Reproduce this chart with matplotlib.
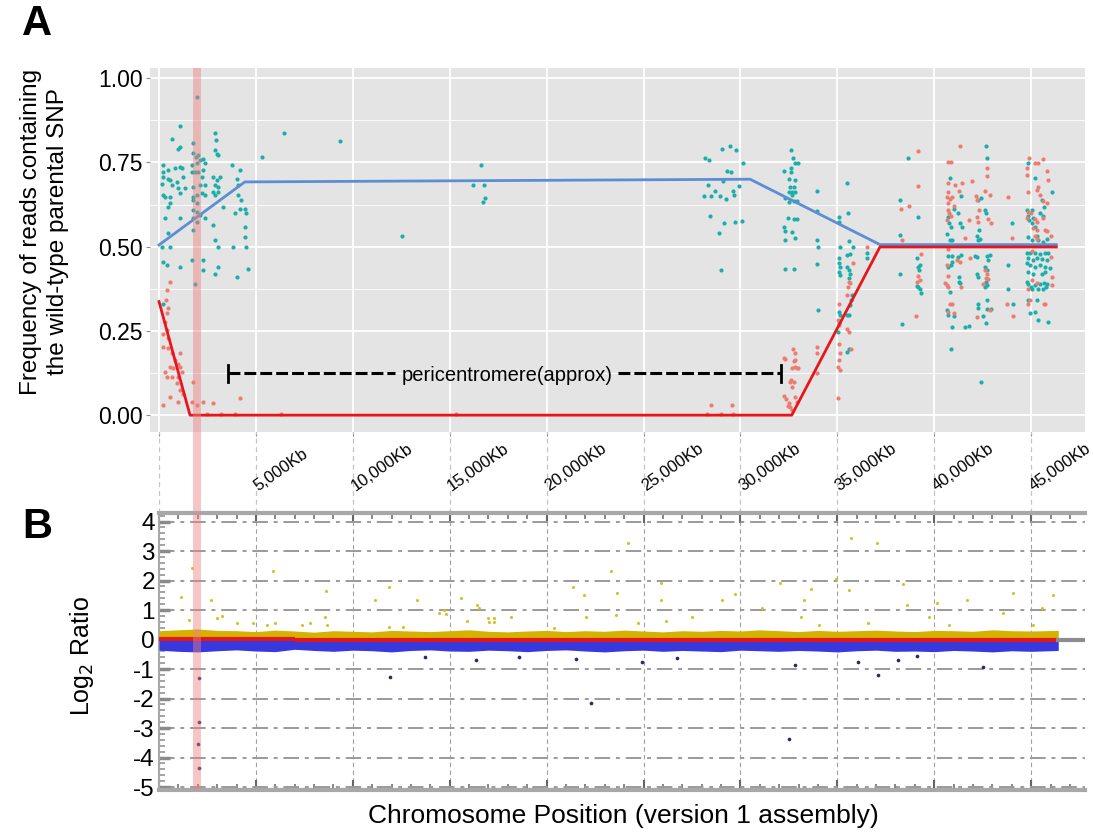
import matplotlib.pyplot as plt
import numpy as np
from matplotlib.ticker import MultipleLocator

plt.rcParams['font.family'] = ['Liberation Sans', 'DejaVu Sans']
plt.rcParams['axes.unicode_minus'] = False

# ---------------- panel A : SNP read frequencies (Kb, frequency) ----------------
teal = np.array([
    (1082, .859), (652, .818), (1768, .808), (2884, .836), (2918, .816), (996, .791), (1082, .796),
    (1768, .778), (1906, .767), (2026, .772), (2112, .757), (2283, .759), (2369, .747), (2884, .786),
    (2970, .776), (3056, .772), (3742, .742), (4172, .727), (223, .742), (481, .727), (824, .732),
    (1082, .737), (1167, .732), (1682, .742), (1940, .747), (2283, .727), (1854, .722), (223, .722),
    (223, .707), (481, .702), (567, .697), (910, .692), (1253, .707), (1682, .722), (2026, .722),
    (2197, .707), (2798, .707), (2970, .697), (3142, .707), (2884, .682), (3056, .678), (4000, .702),
    (4086, .682), (137, .687), (652, .682), (996, .673), (1339, .673), (1768, .678), (2112, .682),
    (2369, .682), (223, .653), (309, .648), (567, .648), (1082, .658), (1768, .648), (1940, .653),
    (2197, .658), (2369, .653), (2798, .663), (2884, .653), (3056, .663), (4086, .653), (4257, .638),
    (481, .618), (567, .628), (1768, .638), (1940, .628), (3313, .618), (3914, .599), (4172, .613),
    (4429, .613), (4515, .599), (1768, .608), (1940, .603), (2112, .593), (2369, .584), (309, .584),
    (1082, .584), (1768, .584), (1940, .574), (2798, .564), (481, .539), (1768, .549), (4429, .559),
    (4429, .529), (2884, .519), (137, .500), (567, .500), (3056, .500), (3828, .500), (4515, .500),
    (223, .455), (395, .445), (1082, .440), (1682, .460), (2283, .460), (2283, .430), (3056, .440),
    (2884, .420), (4000, .410), (4601, .435), (223, .331), (1880, .389), (1942, .943),
    (5340, .766), (6437, .836), (9322, .814), (12550, .532), (16617, .742), (16205, .682),
    (16755, .682), (16703, .633), (16823, .643),
    (28170, .762), (28377, .757), (29030, .791), (29441, .798), (29750, .788), (30128, .749),
    (29321, .724), (29492, .721), (28325, .682), (29098, .695), (28119, .650), (28497, .650),
    (28686, .665), (28926, .651), (29235, .642), (29613, .665), (29664, .653), (29922, .680),
    (28412, .591), (29149, .571), (29699, .573), (30092, .575), (28892, .539), (28973, .432),
    (32324, .433), (32770, .433), (32633, .786), (32702, .764), (32840, .749), (32977, .749),
    (32239, .725), (32616, .732), (32633, .722), (32496, .702), (32840, .699), (32754, .677),
    (32582, .677), (32668, .663), (32805, .663), (32496, .663), (32668, .653), (32324, .643),
    (32754, .635), (32926, .635), (32496, .633), (32462, .584), (32754, .582), (32926, .582),
    (32239, .559), (32290, .547), (32668, .542), (32840, .527), (32324, .519),
    (33955, .665), (33955, .606), (33955, .521), (34007, .498), (33955, .448), (33990, .312),
    (35500, .690), (35535, .600), (35106, .588), (35072, .574), (35158, .498), (35587, .516),
    (35793, .498), (35500, .475), (35673, .477), (35072, .467), (35106, .452), (35123, .440),
    (35072, .425), (35123, .415), (35500, .440), (35587, .430), (35673, .420), (35587, .406),
    (35758, .356), (35707, .341), (35673, .326), (35072, .307), (35123, .297), (35500, .297),
    (35621, .297), (35072, .272), (35037, .247), (35500, .188), (35587, .195), (36530, .480),
    (36530, .465),
    (38250, .638), (38250, .534), (38250, .420), (38335, .269), (38640, .764),
    (39150, .588), (39099, .465), (39271, .445), (39185, .440), (39220, .430), (39099, .383),
    (39185, .379), (39271, .373), (39322, .361), (40875, .195),
    (40790, .705), (40700, .587), (40995, .613), (41215, .600), (41340, .569), (41420, .557),
    (40770, .569), (40875, .559), (40650, .537), (40820, .521), (40940, .519), (41390, .650),
    (41390, .475), (41250, .470), (40735, .472), (40940, .472), (40910, .455), (40735, .440),
    (40875, .445), (41290, .410), (41290, .396), (41340, .391), (40790, .366), (40650, .312),
    (40735, .297), (40995, .294), (40910, .262), (41590, .262), (41800, .264), (42245, .519),
    (42680, .799), (42745, .764), (42400, .643), (42280, .638), (42625, .608), (42680, .600),
    (42330, .549), (42230, .531), (42365, .524), (42100, .472), (42230, .470), (42700, .472),
    (42880, .475), (42795, .460), (42625, .440), (42700, .430), (42195, .418), (42280, .410),
    (42680, .396), (42745, .386), (42625, .381), (42700, .341), (42280, .331), (42280, .318),
    (42745, .314), (42915, .314), (42500, .294), (42680, .272), (42400, .099),
    (44030, .571), (43790, .445), (43825, .373), (44050, .329),
    (44855, .749), (45200, .704), (46060, .663), (44770, .608), (45030, .608), (44855, .590),
    (45115, .586), (44900, .579), (45030, .569), (45200, .559), (45545, .638), (45665, .618),
    (45460, .600), (45630, .590), (44855, .529), (45030, .519), (45370, .519), (45630, .514),
    (45800, .524), (45285, .531),
    (44770, .480), (44940, .480), (45200, .480), (45460, .478), (45715, .482), (45890, .480),
    (44855, .465), (45080, .460), (45320, .465), (45545, .462), (45800, .460), (44770, .450),
    (44940, .445), (45200, .440), (45460, .445), (45715, .440), (45975, .438), (44855, .425),
    (45115, .420), (45545, .420), (45715, .425), (44770, .396), (44855, .389), (44970, .381),
    (45200, .386), (45460, .389), (45665, .393), (45800, .389), (45030, .373), (45370, .373),
    (45630, .373), (45770, .381), (44855, .341), (45285, .341), (45200, .307), (44940, .302),
    (45370, .282), (45890, .277),
])

salmon = np.array([
    (567, .396), (395, .371), (360, .341), (481, .317), (395, .302), (309, .277), (395, .252),
    (223, .242), (481, .228), (223, .203), (481, .198), (652, .183), (1082, .183), (824, .163),
    (996, .153), (567, .143), (309, .129), (738, .139), (1082, .143), (1167, .129), (996, .114),
    (910, .094), (1082, .074), (567, .054), (1253, .064), (223, .030), (996, .040), (1768, .099),
    (1682, .040), (2283, .040), (2798, .035), (1940, .030), (4172, .050), (395, .114), (652, .114),
    (2500, .003), (3200, .002), (3900, .004), (6300, .003), (15300, .004), (28300, .003),
    (29000, .002), (29600, .004), (28497, .030), (29578, .030),
    (32273, .171), (32702, .195), (32805, .183), (32805, .163), (32668, .139), (32840, .143),
    (32977, .139), (32582, .099), (32668, .084), (32239, .056), (32376, .047), (32445, .027),
    (32582, .025), (32668, .015), (32324, .168), (32754, .161), (32926, .139), (32633, .104),
    (32754, .099), (32840, .054), (32926, .040), (32496, .035),
    (33955, .203), (33955, .183), (33955, .124),
    (35072, .331), (35552, .381), (35673, .391), (35500, .356), (35037, .282), (35106, .267),
    (35500, .257), (35587, .247), (35072, .211), (35123, .183), (35072, .163), (35037, .143),
    (35123, .134), (35724, .195), (35037, .052), (35621, .396), (35793, .450), (36530, .498),
    (38295, .613), (38330, .519), (38710, .620), (39150, .784), (41340, .799), (39140, .680),
    (39322, .478), (39150, .413), (39271, .401), (39099, .396), (39047, .295),
    (40733, .750), (40875, .750), (40700, .690), (41080, .682), (41420, .688), (40700, .663),
    (41290, .665), (40650, .648), (40910, .648), (40700, .630), (40820, .640), (41045, .620),
    (40700, .610), (40770, .599), (40875, .590), (40650, .579), (41800, .579), (41590, .527),
    (40735, .493), (41850, .465), (41160, .460), (41340, .453), (40650, .445), (40700, .413),
    (40560, .391), (40650, .386), (40735, .381), (41390, .381), (40790, .331), (40910, .331),
    (40995, .304), (40700, .307), (41970, .695),
    (42700, .732), (42700, .709), (42625, .665), (42880, .653), (42160, .650), (42230, .638),
    (42330, .608), (42230, .587), (42280, .574), (42795, .581), (42915, .569), (42625, .430),
    (42745, .420), (42680, .406), (42795, .403), (42500, .389), (42195, .290), (42880, .312),
    (43825, .646), (43995, .527), (43740, .331), (44050, .294),
    (44900, .762), (45200, .749), (45370, .749), (45630, .759), (44770, .732), (45835, .725),
    (44770, .714), (45890, .697), (45370, .677), (45285, .668), (45460, .653), (44855, .663),
    (45630, .636), (45800, .630), (44855, .603), (44970, .599), (44770, .586), (45200, .583),
    (45285, .574), (45630, .586), (45115, .554), (45285, .549), (45715, .549), (45835, .547),
    (45200, .531), (46000, .531), (45320, .524), (46060, .386), (44855, .331), (44940, .341),
    (45715, .329), (45030, .401), (45030, .488), (46000, .468), (46060, .410), (44855, .373),
    (45665, .331), (45285, .391),
])

blue_fit_kb = [0, 4430, 30500, 37200, 46300]
blue_fit_frq = [0.505, 0.692, 0.700, 0.506, 0.506]
red_fit_kb = [0, 1600, 32650, 37200, 46300]
red_fit_frq = [0.337, 0.0, 0.0, 0.499, 0.499]

# ---------------- panel B : log2 ratio ----------------
env_kb = [0, 1000, 2000, 3000, 4000, 5000, 6000, 7000, 8000, 9000, 10000, 11000, 12000, 13000,
          14000, 15000, 16000, 17000, 18000, 19000, 20000, 21000, 22000, 23000, 24000, 25000,
          26000, 27000, 28000, 29000, 30000, 31000, 32000, 33000, 34000, 35000, 36000, 37000,
          38000, 39000, 40000, 41000, 42000, 43000, 44000, 45000, 46400]
env_top = [0.30, 0.33, 0.36, 0.31, 0.30, 0.27, 0.32, 0.29, 0.25, 0.30, 0.28, 0.26, 0.31, 0.29,
           0.27, 0.30, 0.33, 0.28, 0.26, 0.29, 0.31, 0.27, 0.30, 0.28, 0.32, 0.29, 0.26, 0.30,
           0.28, 0.31, 0.29, 0.33, 0.30, 0.27, 0.31, 0.28, 0.30, 0.32, 0.29, 0.27, 0.31, 0.30,
           0.28, 0.33, 0.30, 0.29, 0.31]
env_bot = [-0.36, -0.40, -0.42, -0.38, -0.35, -0.39, -0.41, -0.33, -0.37, -0.40, -0.36, -0.38,
           -0.42, -0.37, -0.35, -0.39, -0.40, -0.36, -0.38, -0.41, -0.37, -0.35, -0.39, -0.42,
           -0.38, -0.36, -0.40, -0.37, -0.39, -0.41, -0.36, -0.38, -0.40, -0.37, -0.39, -0.42,
           -0.38, -0.36, -0.40, -0.39, -0.41, -0.37, -0.39, -0.42, -0.38, -0.40, -0.37]

gain_pts = np.array([
    (1716, 2.44), (1116, 1.43), (2660, 1.34), (5890, 2.33), (1560, .66), (2970, .72), (3230, .80),
    (4000, .55), (4860, .55), (5580, .49), (5970, .55), (7380, .49), (7780, .55), (8640, 1.65),
    (8550, .76), (8690, .49), (11160, 1.34), (11845, 1.79), (11845, .44), (12580, .44),
    (13320, 1.34), (14440, .89), (14730, 1.0), (14815, .87), (15590, 1.40), (15900, .64),
    (16410, 1.17), (16500, 1.06), (16960, .72), (17045, .61), (17300, .72), (17300, .61),
    (18165, .78), (20390, .38), (21340, 1.79), (21940, 1.51), (22025, .78), (23310, 2.33),
    (23655, 1.57), (23570, .83), (24200, 3.26), (24740, .57), (25890, 1.93), (25890, 1.34),
    (26150, .64), (27490, .76), (29070, 1.34), (29715, 1.54), (31120, 1.06), (32030, 1.93),
    (33660, 1.70), (33270, 1.34), (33150, .76), (34040, .49), (34930, 2.04), (35725, 3.43),
    (37040, 3.29), (35600, 1.68), (36580, .57), (38370, 1.87), (38590, 1.17), (39710, .78),
    (40140, 1.25), (40770, .49), (41680, 1.34), (43570, .89), (44080, 1.57), (45540, 1.06),
    (46140, 1.51), (45110, .49),
])
loss_pts = np.array([
    (2060, -1.31), (2060, -2.78), (2025, -3.55), (2060, -4.36), (11900, -1.26), (22310, -2.16),
    (13700, -.58), (16350, -.69), (18550, -.60), (21530, -.66), (24940, -.75), (26740, -.63),
    (32840, -.86), (32530, -3.38), (36065, -.75), (37090, -1.20), (38125, -.69), (42540, -.94),
    (39100, -.56),
])

seg_start = [0, 7000, 29400]
seg_end = [7000, 29400, 46400]
seg_val = [0.03, -0.03, 0.0]

tick_kb = [0, 5000, 10000, 15000, 20000, 25000, 30000, 35000, 40000, 45000]
tick_lbl = ['5,000Kb', '10,000Kb', '15,000Kb', '20,000Kb', '25,000Kb',
            '30,000Kb', '35,000Kb', '40,000Kb', '45,000Kb']
band = (1760, 2160)
x_max = 47780

fig = plt.figure(figsize=(10.93, 8.34), dpi=100)
axA = fig.add_axes([0.13724, 0.48201, 0.85544, 0.43645])
axM = fig.add_axes([0.14547, 0.38489, 0.84721, 0.09712])
axB = fig.add_axes([0.14547, 0.05276, 0.84721, 0.33213])

# --- panel A
axA.set_facecolor('#E4E4E4')
axA.set_xlim(-464, x_max)
axA.set_ylim(-0.05, 1.03)
axA.set_yticks([0, 0.25, 0.5, 0.75, 1.0])
axA.set_yticklabels(['0.00', '0.25', '0.50', '0.75', '1.00'])
axA.yaxis.set_minor_locator(MultipleLocator(0.125))
axA.set_xticks(tick_kb)
axA.set_xticklabels([])
axA.set_axisbelow(True)
axA.grid(which='major', color='white', lw=1.3)
axA.grid(which='minor', axis='y', color='white', lw=0.6)
for s in axA.spines.values():
    s.set_visible(False)
axA.tick_params(which='major', length=3, color='#8A8A8A', labelsize=16.5, pad=2)
axA.tick_params(which='minor', length=0)

axA.scatter(teal[:, 0], teal[:, 1], s=9, color='#1BAFA9', lw=0, zorder=3)
axA.scatter(salmon[:, 0], salmon[:, 1], s=9, color='#EE7B72', lw=0, zorder=3)
axA.plot(blue_fit_kb, blue_fit_frq, color='#5B8ED3', lw=2, zorder=4)
axA.plot(red_fit_kb, red_fit_frq, color='#E8161C', lw=2, zorder=5)
axA.axvspan(*band, color='#F08080', alpha=0.45, lw=0, zorder=6)

# pericentromere marker
dash = (0, (3.9, 1.3))
axA.plot([3560, 12200], [0.125, 0.125], color='black', lw=2.2, ls=dash, zorder=5)
axA.plot([23700, 32110], [0.125, 0.125], color='black', lw=2.2, ls=dash, zorder=5)
axA.plot([3560, 3560], [0.098, 0.148], color='black', lw=2, zorder=5)
axA.plot([32110, 32110], [0.098, 0.148], color='black', lw=2, zorder=5)
axA.text(17950, 0.118, 'pericentromere(approx)', ha='center', va='center', fontsize=14.5, zorder=5)

# --- in-between strip with the position labels
axM.set_xlim(0, x_max)
axM.set_ylim(0, 1)
axM.axis('off')
for k in tick_kb:
    axM.axvline(k, color='#C4C4C4', lw=0.9, ls=(0, (4, 3)))
for k, lab in zip(tick_kb[1:], tick_lbl):
    axM.text(k + 120, 0.27, lab, rotation=35, rotation_mode='anchor',
             ha='left', va='baseline', fontsize=12)
axM.axvspan(*band, color='#F08080', alpha=0.45, lw=0)

# --- panel B
axB.set_xlim(0, x_max)
axB.set_ylim(-5.1, 4.29)
axB.set_yticks(range(-5, 5))
axB.yaxis.set_minor_locator(MultipleLocator(0.2))
axB.set_xticks(tick_kb)
axB.xaxis.set_minor_locator(MultipleLocator(1000))
axB.grid(axis='y', which='major', color='#9A9A9A', lw=1.4, ls=(0, (8, 3, 2, 3)))
axB.grid(axis='x', which='major', color='#A0A0A0', lw=0.8, ls=(0, (4, 3)))
axB.spines['right'].set_visible(False)
for side in ('top', 'bottom'):
    axB.spines[side].set_color('#A8A8A8')
    axB.spines[side].set_linewidth(3)
axB.spines['left'].set_color('#A8A8A8')
axB.spines['left'].set_linewidth(1.5)
axB.tick_params(axis='x', which='both', direction='in', top=True, bottom=True,
                labelbottom=False, color='#666666')
axB.tick_params(axis='x', which='major', length=7, width=1.5)
axB.tick_params(axis='x', which='minor', length=4, width=1.1)
axB.tick_params(axis='y', which='major', direction='in', length=8, width=2.5,
                color='#8A8A8A', labelsize=17.5, pad=3)
axB.tick_params(axis='y', which='minor', direction='in', length=4, width=1.1, color='#8A8A8A')

axB.fill_between(env_kb, 0, env_top, color='#D6B200', lw=0, zorder=3)
axB.fill_between(env_kb, env_bot, 0, color='#3838DF', lw=0, zorder=3)
axB.hlines(seg_val, seg_start, seg_end, color='#E01818', lw=3, zorder=4)
axB.plot([seg_end[-1], x_max], [0, 0], color='#8C8C8C', lw=3, zorder=4)
axB.scatter(gain_pts[:, 0], gain_pts[:, 1], s=5, color='#D9BE2C', lw=0, zorder=4)
axB.scatter(loss_pts[:, 0], loss_pts[:, 1], s=7, color='#2A2A6A', lw=0, zorder=4)
axB.axvspan(*band, color='#F08080', alpha=0.45, lw=0, zorder=5)

# --- labels
fig.text(0.041, 0.722, 'Frequency of reads containing\nthe wild-type parental SNP',
         rotation=90, ha='center', va='center', fontsize=17.5, linespacing=1.3)
fig.text(0.075, 0.213, 'Log$_2$ Ratio', rotation=90, ha='center', va='center', fontsize=18)
fig.text(0.57, 0.021, 'Chromosome Position (version 1 assembly)', ha='center', va='center',
         fontsize=19)
fig.text(0.02, 0.995, 'A', fontsize=30, fontweight='bold', va='top')
fig.text(0.02, 0.392, 'B', fontsize=30, fontweight='bold', va='top')

fig.savefig('out.png', dpi=100)
